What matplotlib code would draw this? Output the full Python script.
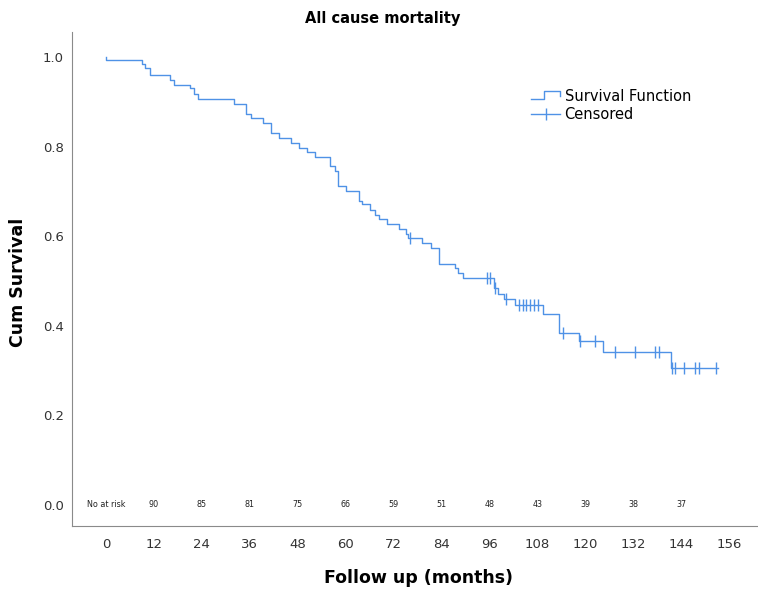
import matplotlib
matplotlib.use('Agg')
import matplotlib.pyplot as plt
from matplotlib.lines import Line2D
from matplotlib.legend_handler import HandlerBase
import numpy as np

# Kaplan-Meier steps (time in months, survival after the drop)
event_times = [0, 9.0, 9.8, 11.0, 16.0, 17.0, 21.0, 22.0, 23.0, 32.0, 35.0, 36.3,
               39.2, 41.2, 43.3, 46.2, 48.3, 50.3, 52.3, 56.2, 57.3, 58.2, 60.2,
               63.3, 64.2, 66.2, 67.3, 68.3, 70.3, 73.3, 75.2, 75.7, 79.2, 81.3,
               83.3, 87.3, 88.1, 89.3, 97.2, 98.1, 99.6, 102.3, 109.3, 113.4,
               118.4, 124.4, 141.4]
surv_values = [0.993, 0.984, 0.976, 0.960, 0.949, 0.9375, 0.930, 0.918, 0.907,
               0.896, 0.874, 0.863, 0.852, 0.831, 0.820, 0.809, 0.798, 0.787,
               0.777, 0.757, 0.746, 0.712, 0.702, 0.679, 0.672, 0.658, 0.647,
               0.638, 0.627, 0.616, 0.606, 0.595, 0.584, 0.573, 0.539, 0.530,
               0.519, 0.507, 0.484, 0.472, 0.460, 0.446, 0.426, 0.385, 0.365,
               0.341, 0.306]
end_time = 153.3

censor_times = [76.0, 95.3, 96.1, 97.3, 100.2, 103.4, 104.3, 105.1, 106.1, 107.1,
                108.1, 114.3, 118.6, 122.4, 127.4, 132.4, 137.4, 138.3, 141.6,
                142.5, 144.6, 147.5, 148.5, 152.6]

risk_times = [0, 12, 24, 36, 48, 60, 72, 84, 96, 108, 120, 132, 144]
risk_labels = ['No at risk', '90', '85', '81', '75', '66', '59', '51', '48', '43',
               '39', '38', '37']

xticks = list(range(0, 157, 12))
yticks = [0.0, 0.2, 0.4, 0.6, 0.8, 1.0]

col = '#4f92e6'


def surv_at(t):
    # value of the step curve at time t
    idx = np.searchsorted(event_times, t, side='right') - 1
    return surv_values[idx] if idx >= 0 else 1.0


class StepHandler(HandlerBase):
    def create_artists(self, legend, orig_handle, xdescent, ydescent,
                       width, height, fontsize, trans):
        x0 = -xdescent
        y0 = -ydescent
        xs = [x0, x0 + width * 0.45, x0 + width * 0.45, x0 + width, x0 + width]
        ys = [y0 + height * 0.15, y0 + height * 0.15, y0 + height * 0.95,
              y0 + height * 0.95, y0 + height * 0.45]
        ln = Line2D(xs, ys, color=orig_handle.get_color(), lw=1, transform=trans)
        return [ln]


fig = plt.figure(figsize=(7.58, 5.91), dpi=100)
ax = fig.add_axes([72 / 758, 1 - 526 / 591, 1 - 72 / 758, (526 - 32) / 591])

xs = [0] + event_times + [end_time]
ys = [1.0] + surv_values + [surv_values[-1]]
surv_line, = ax.step(xs, ys, where='post', color=col, lw=1)

cy = [surv_at(t) for t in censor_times]
cens, = ax.plot(censor_times, cy, linestyle='none', marker='|', markersize=8,
                markeredgewidth=1, color=col)

for t, lab in zip(risk_times, risk_labels):
    ax.text(t, 0.0, lab, ha='center', va='center', fontsize=5.8, color='#222222')

ax.set_xlim(-8.5, 163.2)
ax.set_ylim(-0.047, 1.056)
ax.set_xticks(xticks)
ax.set_yticks(yticks)
ax.set_yticklabels([f'{v:.1f}' for v in yticks])
ax.tick_params(length=0, labelsize=9.5, colors='#333333')
ax.tick_params(axis='x', pad=9)
ax.tick_params(axis='y', pad=6)
for s in ['top', 'right']:
    ax.spines[s].set_visible(False)
for s in ['left', 'bottom']:
    ax.spines[s].set_color('#8a8a8a')

legend_line = Line2D([], [], color=col, lw=1)
legend_cens = Line2D([], [], color=col, lw=1, marker='|', markersize=9)
fig.legend([legend_line, legend_cens], ['Survival Function', 'Censored'],
           handler_map={legend_line: StepHandler()},
           loc='upper left', bbox_to_anchor=(531 / 758, 1 - 89 / 591),
           frameon=False, fontsize=10.5, handlelength=2.0, handletextpad=0.3,
           labelspacing=0.2, borderpad=0, borderaxespad=0)

fig.text(383 / 758, 1 - 18 / 591, 'All cause mortality', ha='center', va='center',
         fontsize=10.5, fontweight='bold')
fig.text(418 / 758, 1 - 578 / 591, 'Follow up (months)', ha='center', va='center',
         fontsize=12.5, fontweight='bold')
fig.text(18 / 758, 1 - 282 / 591, 'Cum Survival', ha='center', va='center',
         rotation=90, fontsize=12.5, fontweight='bold')

fig.savefig('out.png', dpi=100)
